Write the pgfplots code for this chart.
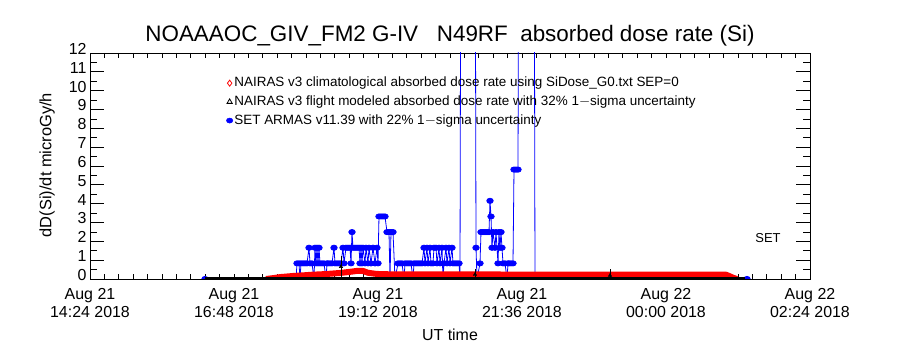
\documentclass[border=0pt]{standalone}
\usepackage{fontspec}
\setmainfont{Liberation Sans}
\usepackage{pgfplots}
\pgfplotsset{compat=1.18}
\pgfplotsset{markonly legend/.style={legend image code/.code={\draw[##1] plot coordinates {(0bp,0bp)};}}}
\begin{document}
\begin{tikzpicture}
\useasboundingbox (0,0) rectangle (900bp,350bp);
\begin{axis}[
  at={(90bp,71bp)}, anchor=south west,
  scale only axis, width=720bp, height=226bp,
  xmin=0, xmax=720, ymin=0, ymax=12,
  axis line style={black, line width=0.8bp},
  xtick={0,144,...,720},
  xticklabels={{Aug 21\\14:24 2018},{Aug 21\\16:48 2018},{Aug 21\\19:12 2018},{Aug 21\\21:36 2018},{Aug 22\\00:00 2018},{Aug 22\\02:24 2018}},
  xticklabel style={align=center, font=\fontsize{16}{17.5}\selectfont, yshift=-6bp},
  minor x tick num=9,
  xtick style={/pgfplots/major tick length=5bp, /pgfplots/minor tick length=5bp},
  ytick={0,...,12}, minor y tick num=1,
  ytick style={/pgfplots/major tick length=14bp, /pgfplots/minor tick length=7bp},
  every tick/.style={black, line width=0.8bp},
  yticklabel style={font=\fontsize{16}{17}\selectfont, yshift=4bp},
  /pgf/number format/assume math mode=true,
  xlabel={UT time},
  xlabel style={at={(axis description cs:0.5,-0.245)}, anchor=center, font=\fontsize{16}{17}\selectfont},
  ylabel={dD(Si)/dt microGy/h},
  ylabel style={at={(axis description cs:-0.0597,0.504)}, anchor=center, font=\fontsize{16.5}{17}\selectfont},
  title={NOAAAOC\_GIV\_FM2 G-IV \ \ N49RF \ absorbed dose rate (Si)},
  title style={at={(axis description cs:0.5,1.05)}, anchor=center, font=\fontsize{22.5}{23}\selectfont},
  clip marker paths=true,
  legend cell align=left,
  legend style={at={(axis description cs:0.185,0.905)}, anchor=north west, draw=none, fill=none,
    font=\fontsize{13.5}{14}\selectfont, row sep=5.7bp,
    nodes={inner xsep=1.5bp, inner ysep=0bp, text height=10bp, text depth=3bp}},
]
% SET ARMAS (blue)
\addplot[forget plot, blue, line width=0.8bp, mark=*, mark size=2.6bp, mark options={xscale=1.25, fill=blue, draw=blue}] coordinates {
(115,0)(206,0)(207,0.83)(209,0.83)(210,0)(211,0.83)(213,0.83)(215,0.83)(217,0.83)(219,1.66)(220,0.83)(222,0.83)(224,0)(225,1.66)(226,0.83)(227,1.66)(228,0.83)(229,1.66)(230,0.83)(232,0.83)(234,0.83)(236,0)(237,0.83)(238,0.83)(240,0.83)(242,0.83)(244,1.66)(245,0.83)(247,0.83)(249,0.83)(251,0.83)(253,1.66)(254,0.83)(256,1.66)(258,1.66)(260,1.66)(261,0.83)(262,2.49)(263,1.66)(265,1.66)(267,1.66)(269,1.66)(270,0.83)(271,1.66)(272,0.83)(273,1.66)(275,0.83)(276,1.66)(278,0.83)(279,1.66)(281,0.83)(283,1.66)(285,0.83)(287,1.66)(288,0.83)(289,3.32)(291,3.32)(293,3.32)(295,3.32)(297,2.49)(299,2.49)(300,0)(301,2.49)(303,2.49)(305,0)(308,0.83)(310,0.83)(312,0.83)(314,0)(315,0.83)(317,0.83)(319,0.83)(321,0.83)(323,0)(324,0.83)(326,0.83)(328,0.83)(330,0.83)(332,0.83)(334,1.66)(335,0.83)(337,1.66)(338,0.83)(340,1.66)(341,0.83)(343,0.83)(344,1.66)(346,1.66)(347,0.83)(349,1.66)(350,0.83)(352,1.66)(353,0)(354,0.83)(356,1.66)(357,0.83)(359,1.66)(360,0.83)(362,1.66)(363,0.83)(365,0.83)(367,0.83)(369,0.83)(370,0)(371,25)(385,25)(386,1.66)(387,0)(390,0.83)(391,2.49)(393,2.49)(395,2.49)(397,2.49)(399,2.49)(400,4.15)(401,3.32)(402,1.66)(403,2.49)(405,1.66)(406,2.49)(408,0.83)(409,2.49)(410,1.66)(411,2.49)(412,1.66)(413,0.83)(415,0.83)(417,0)(418,0.83)(419,0.83)(421,0.83)(423,0.83)(424,5.81)(426,5.81)(428,5.81)(429,25)(444,25)(445,0)(500,0)(600,0)(657,0)
};
% NAIRAS climatological (red)
\addplot[forget plot, red, line width=6bp, line join=round] coordinates {
(176,0.0)(185,0.06)(190,0.10)(203,0.16)(215,0.20)(223,0.23)(235,0.26)(250,0.32)(260,0.38)(267,0.43)(273,0.43)(278,0.33)(285,0.28)(290,0.26)(300,0.25)(323,0.24)(400,0.24)(500,0.23)(600,0.23)(636,0.23)(640,0.14)(643,0.07)(647,0.0)
};
% NAIRAS flight modeled (black)
\addplot[forget plot, black, line width=2.5bp] coordinates {(115,0.06)(655,0.06)};
\addplot[forget plot, black, only marks, mark=triangle*, mark size=2bp,
  error bars/.cd, y dir=both, y explicit, error mark=-,
  error mark options={black, mark size=3.5bp, line width=0.8bp},
  error bar style={black, line width=0.8bp}]
  coordinates {(251,0.66) +- (0,0.35) (385,0.24) +- (0,0.13) (520,0.19) +- (0,0.13)};
\addlegendimage{red, only marks, mark=diamond, mark size=3bp, line width=0.8bp, markonly legend}
\addlegendentry{NAIRAS v3 climatological absorbed dose rate using SiDose\_G0.txt SEP=0}
\addlegendimage{black, only marks, mark=triangle, mark size=3bp, line width=0.8bp, markonly legend}
\addlegendentry{NAIRAS v3 flight modeled absorbed dose rate with 32\% 1$-$sigma uncertainty}
\addlegendimage{blue, only marks, mark=*, mark size=2.6bp, mark options={xscale=1.25}, markonly legend}
\addlegendentry{SET ARMAS v11.39 with 22\% 1$-$sigma uncertainty}
\node[font=\fontsize{13}{14}\selectfont] at (axis cs:678,2.18) {SET};
\end{axis}
\end{tikzpicture}
\end{document}
